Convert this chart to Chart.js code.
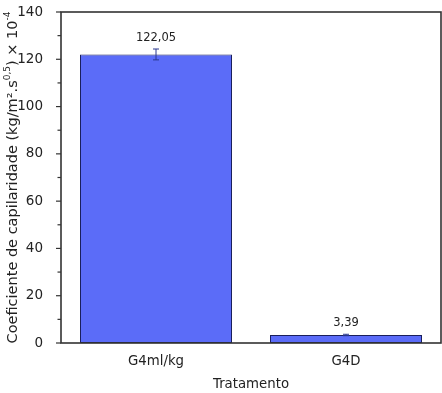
<!DOCTYPE html>
<html><head><meta charset="utf-8">
<script src="https://cdn.jsdelivr.net/npm/chart.js@4"></script>
<style>html,body{margin:0;padding:0;background:#fff}#wrap{width:442px;height:393px}</style>
</head><body><div id="wrap"><canvas id="c"></canvas></div>
<script>
const categories = ['G4ml/kg', 'G4D'];
const values = [122.05, 3.39];
const errors = [2.3, 0.3];
const valueLabels = ['122,05', '3,39'];
const yTicks = [0, 20, 40, 60, 80, 100, 120, 140];

const FONT = "'DejaVu Sans', Verdana, sans-serif";

const framePlugin = {
  id: 'frame',
  afterDatasetsDraw(chart) {
    const {ctx, chartArea: a, scales} = chart;
    const ys = scales.y;
    ctx.save();
    const meta = chart.getDatasetMeta(0);
    ctx.strokeStyle = '#2b3990';
    ctx.lineWidth = 1;
    meta.data.forEach((bar, i) => {
      const x = bar.x;
      const yt = ys.getPixelForValue(values[i] + errors[i]);
      const yb = ys.getPixelForValue(values[i] - errors[i]);
      ctx.beginPath();
      ctx.moveTo(x, yt); ctx.lineTo(x, yb);
      ctx.moveTo(x - 3, yt); ctx.lineTo(x + 3, yt);
      ctx.moveTo(x - 3, yb); ctx.lineTo(x + 3, yb);
      ctx.stroke();
      ctx.fillStyle = '#222';
      ctx.font = '11.5px ' + FONT;
      ctx.textAlign = 'center';
      ctx.textBaseline = 'alphabetic';
      ctx.fillText(valueLabels[i], x, yt - 8);
    });
    ctx.strokeStyle = '#333';
    ctx.lineWidth = 1.6;
    ctx.strokeRect(a.left, a.top, a.right - a.left, a.bottom - a.top);
    ctx.lineWidth = 1.2;
    for (let v = 0; v <= 140; v += 10) {
      const y = ys.getPixelForValue(v);
      const len = (v % 20 === 0) ? 5 : 3.5;
      ctx.beginPath();
      ctx.moveTo(a.left - len, y); ctx.lineTo(a.left, y);
      ctx.stroke();
    }
    ctx.fillStyle = '#222';
    ctx.translate(13, (a.top + a.bottom) / 2);
    ctx.rotate(-Math.PI / 2);
    const parts = [
      ['Coeficiente de capilaridade (kg/m\u00B2.s', 14.5, 0],
      ['0,5', 9, -5.5],
      [') \u00D7 10', 14.5, 0],
      ['-4', 9, -5.5]
    ];
    let total = 0;
    parts.forEach(p => { ctx.font = p[1] + 'px ' + FONT; total += ctx.measureText(p[0]).width; });
    let x = -total / 2;
    ctx.textAlign = 'left';
    ctx.textBaseline = 'middle';
    parts.forEach(p => {
      ctx.font = p[1] + 'px ' + FONT;
      ctx.fillText(p[0], x, p[2]);
      x += ctx.measureText(p[0]).width;
    });
    ctx.restore();
  }
};

new Chart(document.getElementById('c'), {
  type: 'bar',
  data: {
    labels: categories,
    datasets: [{
      data: values,
      backgroundColor: '#5b6cf8',
      borderColor: '#1a1f5c',
      borderWidth: 1,
      borderSkipped: false,
      categoryPercentage: 1,
      barPercentage: 0.8
    }]
  },
  options: {
    responsive: true,
    maintainAspectRatio: false,
    animation: false,
    layout: { padding: { top: 0, right: 1, left: 0, bottom: 0 } },
    plugins: { legend: { display: false }, tooltip: { enabled: false } },
    scales: {
      x: {
        grid: { display: false },
        border: { display: false },
        ticks: { color: '#222', font: { family: FONT, size: 13.3 }, padding: 3 },
        title: { display: true, text: 'Tratamento', color: '#222', font: { family: FONT, size: 13.3 }, padding: { top: 10, bottom: 0 } },
        afterFit(s) { s.height = 50; }
      },
      y: {
        min: 0, max: 140,
        afterBuildTicks(s) { s.ticks = yTicks.map(v => ({ value: v })); },
        grid: { display: false },
        border: { display: false },
        ticks: { color: '#222', font: { family: FONT, size: 13.5 }, padding: 10 },
        afterFit(s) { s.width = 61; s.paddingTop = 12; }
      }
    }
  },
  plugins: [framePlugin]
});
</script></body></html>
